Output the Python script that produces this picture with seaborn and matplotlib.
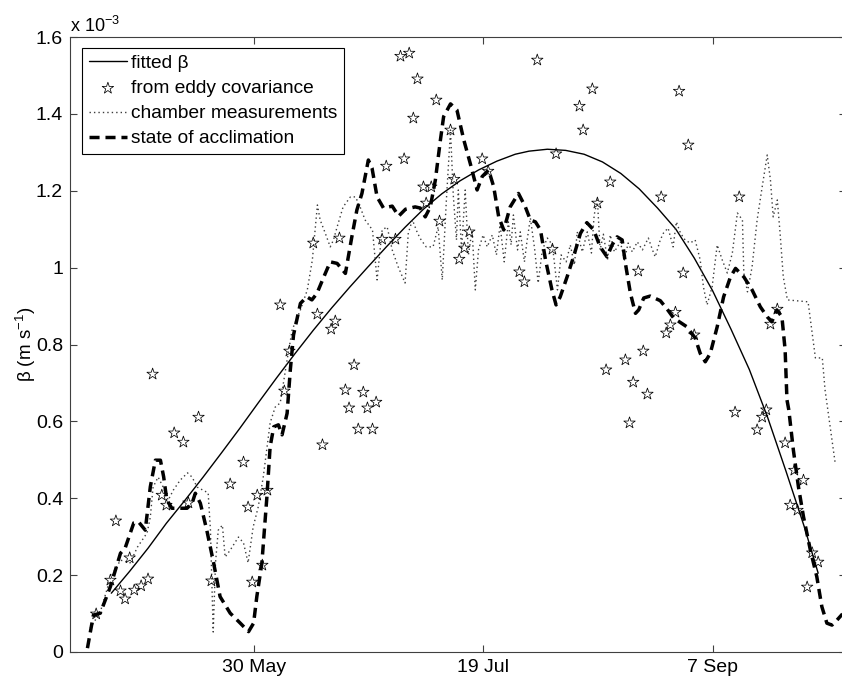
import numpy as np
import pandas as pd
import matplotlib
matplotlib.use("Agg")
import matplotlib.pyplot as plt
import seaborn as sns

# ---------------- data (x: day of year, y: beta in 1e-3 m s-1) ----------------
fit_day = [119, 123, 127, 131, 135, 139, 143, 147, 151, 155, 159, 163, 167, 171,
           175, 179, 183, 187, 191, 195, 199, 203, 207, 210, 214, 218, 222, 226,
           230, 234, 238, 242, 246, 250, 254, 258, 262, 266, 270, 273]
fit_val = [0.153, 0.21, 0.27, 0.335, 0.394, 0.455, 0.518, 0.582, 0.648, 0.713,
           0.776, 0.837, 0.895, 0.950, 1.003, 1.055, 1.105, 1.152, 1.192, 1.226,
           1.254, 1.277, 1.295, 1.303, 1.308, 1.305, 1.295, 1.275, 1.245, 1.205,
           1.155, 1.10, 1.025, 0.94, 0.84, 0.735, 0.61, 0.47, 0.325, 0.205]

ec_day = [115.7, 118.8, 120, 121, 122, 123, 124, 125.5, 127, 128, 130, 131, 132.7,
          134.7, 135.8, 138, 140.8, 144.9, 147.8, 148.8, 149.7, 150.8, 151.9, 153,
          155.8, 156.7, 157.8, 163, 163.9, 165, 166.9, 167.8, 168.7, 170, 170.8,
          171.9, 172.8, 173.9, 174.8, 175.9, 176.7, 178, 178.9, 180.9, 182, 182.8,
          183.9, 184.8, 185.7, 187, 187.6, 188.7, 189.8, 190.5, 192.9, 193.7,
          194.8, 195.9, 197, 199.8, 201.1, 207.9, 209, 211.8, 215.1, 215.9, 221,
          221.8, 223.8, 224.9, 226.8, 227.7, 231, 231.9, 232.7, 233.8, 234.9,
          235.8, 238.8, 239.9, 240.8, 241.9, 242.7, 243.6, 244.7, 246, 254.9,
          255.8, 259.7, 260.8, 261.7, 262.6, 264.1, 265.8, 266.9, 267.8, 268.5,
          269.8, 270.6, 271.7, 273]
ec_val = [0.099, 0.187, 0.341, 0.159, 0.138, 0.245, 0.161, 0.172, 0.190, 0.723,
          0.408, 0.382, 0.570, 0.546, 0.388, 0.611, 0.185, 0.437, 0.494, 0.377,
          0.182, 0.408, 0.226, 0.421, 0.903, 0.679, 0.783, 1.064, 0.879, 0.539,
          0.840, 0.861, 1.077, 0.682, 0.635, 0.747, 0.580, 0.676, 0.635, 0.580,
          0.650, 1.074, 1.264, 1.074, 1.550, 1.283, 1.558, 1.389, 1.491, 1.210,
          1.168, 1.210, 1.436, 1.121, 1.358, 1.230, 1.022, 1.051, 1.093, 1.283,
          1.251, 0.989, 0.963, 1.540, 1.048, 1.296, 1.420, 1.358, 1.465, 1.168,
          0.734, 1.223, 0.760, 0.596, 0.702, 0.991, 0.783, 0.671, 1.184, 0.830,
          0.851, 0.884, 1.459, 0.986, 1.319, 0.825, 0.624, 1.184, 0.578, 0.611,
          0.630, 0.853, 0.892, 0.544, 0.382, 0.473, 0.369, 0.447, 0.169, 0.258,
          0.234]

ch_day = [114.4, 116.6, 118.8, 121.0, 123.1, 124.7, 126.8, 127.5, 128.1, 129.2,
          130.3, 131.4, 132.5, 134.0, 135.6, 136.6, 137.7, 139.0, 140.1, 140.6,
          141.2, 141.7, 142.3, 143.2, 143.8, 144.9, 146.7, 147.8, 148.8, 149.9,
          151.0, 152.1, 153.6, 154.7, 155.8, 157.3, 158.4, 160.2, 161.7, 162.8,
          163.9, 164.5, 165.6, 166.7, 167.4, 168.2, 169.5, 171.1, 172.2, 173.2,
          174.3, 175.9, 176.9, 178.0, 179.1, 180.2, 181.5, 183.0, 183.7, 184.6,
          185.7, 186.5, 187.6, 189.1, 190.2, 191.1, 192.0, 192.9, 193.5, 194.2,
          194.6, 195.3, 196.1, 196.8, 197.6, 198.3, 199.0, 200.0, 200.9, 202.0,
          202.9, 203.7, 204.6, 205.5, 206.1, 206.6, 207.5, 208.1, 209.0, 209.6,
          210.3, 211.2, 212.0, 212.9, 214.0, 215.1, 216.2, 217.0, 218.1, 219.0,
          219.9, 220.5, 221.6, 222.7, 223.6, 224.2, 224.9, 225.5, 226.2, 227.1,
          227.7, 228.6, 229.9, 230.8, 231.6, 232.5, 233.6, 234.7, 236.0, 236.9,
          237.5, 238.6, 239.3, 240.3, 241.4, 242.1, 243.0, 244.0, 245.1, 246.2,
          247.3, 248.0, 248.8, 249.9, 251.0, 252.1, 253.2, 254.3, 255.4, 256.5,
          256.8, 257.6, 258.6, 259.7, 260.8, 261.9, 262.6, 263.2, 264.1, 264.7,
          265.4, 266.3, 270.8, 271.7, 272.4, 273.9, 274.5, 276.7]
ch_val = [0.062, 0.104, 0.193, 0.239, 0.232, 0.273, 0.310, 0.351, 0.429, 0.455,
          0.429, 0.395, 0.421, 0.447, 0.466, 0.455, 0.429, 0.421, 0.414, 0.317,
          0.052, 0.232, 0.317, 0.330, 0.247, 0.265, 0.299, 0.284, 0.232, 0.325,
          0.377, 0.455, 0.596, 0.637, 0.648, 0.760, 0.838, 0.890, 0.942, 1.020,
          1.163, 1.124, 1.090, 1.054, 1.072, 1.106, 1.158, 1.184, 1.184, 1.158,
          1.124, 1.098, 0.968, 1.098, 1.106, 1.046, 1.002, 0.960, 1.090, 1.124,
          1.090, 1.072, 1.054, 1.054, 1.106, 0.968, 1.176, 1.358, 1.189, 1.072,
          1.202, 1.046, 1.202, 1.033, 1.098, 0.942, 1.046, 1.085, 1.054, 1.085,
          1.033, 1.111, 1.015, 1.119, 1.059, 1.137, 1.046, 1.093, 1.015, 1.072,
          1.129, 1.051, 0.960, 1.046, 1.077, 1.059, 0.942, 1.033, 1.015, 1.059,
          1.007, 1.093, 1.041, 1.093, 1.038, 1.137, 1.176, 1.046, 1.087, 1.020,
          1.085, 1.041, 1.067, 1.020, 1.064, 1.041, 1.067, 1.046, 1.077, 1.046,
          1.028, 1.072, 1.090, 1.103, 1.054, 1.119, 1.090, 1.072, 1.064, 1.072,
          1.020, 0.950, 0.903, 0.950, 1.059, 1.020, 0.986, 1.038, 1.142, 1.124,
          0.986, 0.937, 1.002, 1.124, 1.210, 1.293, 1.228, 1.132, 1.176, 1.090,
          0.976, 0.916, 0.911, 0.830, 0.765, 0.765, 0.682, 0.492]

acc_day = [113.8, 115.1, 116.6, 118.8, 121.0, 122.0, 123.9, 124.9, 126.4, 127.5,
           128.6, 129.7, 130.4, 131.1, 132.2, 133.3, 135.5, 136.6, 137.3, 138.4,
           139.8, 141.3, 142.7, 144.9, 147.1, 148.9, 150.0, 150.7, 151.8, 152.9,
           153.6, 154.4, 155.4, 156.2, 157.3, 158.0, 158.7, 160.2, 161.6, 162.7,
           163.8, 165.3, 166.7, 168.2, 170.0, 171.4, 172.5, 173.6, 175.0, 175.8,
           176.9, 178.3, 180.2, 181.6, 183.1, 185.2, 186.3, 187.4, 188.5, 189.6,
           190.7, 191.4, 192.9, 194.3, 195.8, 197.2, 198.7, 199.8, 201.2, 202.3,
           203.4, 204.5, 205.9, 207.7, 209.2, 210.3, 211.4, 212.5, 213.6, 215.0,
           215.9, 216.8, 218.3, 219.7, 221.2, 222.6, 224.1, 225.5, 227.0, 228.1,
           229.2, 230.3, 231.0, 232.1, 233.2, 233.9, 235.0, 236.4, 238.6, 240.1,
           241.5, 244.4, 246.2, 247.3, 248.4, 249.5, 251.0, 252.4, 253.9, 255.0,
           256.8, 258.6, 260.4, 261.9, 262.9, 264.0, 265.1, 265.8, 266.2, 266.6,
           267.6, 268.7, 269.8, 271.3, 272.7, 273.8, 274.9, 276.0, 277.1, 278.3]
acc_val = [0.010, 0.096, 0.101, 0.170, 0.257, 0.270, 0.336, 0.339, 0.317, 0.430,
           0.499, 0.499, 0.456, 0.395, 0.374, 0.374, 0.374, 0.387, 0.413, 0.387,
           0.317, 0.231, 0.144, 0.101, 0.075, 0.053, 0.075, 0.144, 0.231, 0.404,
           0.534, 0.586, 0.591, 0.565, 0.621, 0.734, 0.825, 0.907, 0.924, 0.916,
           0.933, 0.976, 1.015, 1.011, 0.985, 1.080, 1.150, 1.193, 1.280, 1.259,
           1.184, 1.155, 1.160, 1.134, 1.152, 1.158, 1.155, 1.132, 1.158, 1.228,
           1.332, 1.393, 1.426, 1.410, 1.332, 1.271, 1.202, 1.237, 1.254, 1.211,
           1.132, 1.098, 1.158, 1.193, 1.158, 1.124, 1.119, 1.098, 1.020, 0.942,
           0.903, 0.924, 0.976, 1.028, 1.089, 1.117, 1.098, 1.054, 1.028, 1.059,
           1.080, 1.072, 1.011, 0.933, 0.881, 0.890, 0.921, 0.926, 0.914, 0.892,
           0.869, 0.846, 0.817, 0.777, 0.755, 0.777, 0.846, 0.924, 0.976, 0.998,
           0.976, 0.942, 0.898, 0.872, 0.859, 0.890, 0.872, 0.786, 0.656, 0.630,
           0.525, 0.430, 0.352, 0.265, 0.196, 0.118, 0.075, 0.070, 0.083, 0.099]

xtick_pos = [150, 200, 250]
xtick_labels = ["30 May", "19 Jul", "7 Sep"]
ytick_pos = [0, 0.2, 0.4, 0.6, 0.8, 1.0, 1.2, 1.4, 1.6]
ytick_labels = ["0", "0.2", "0.4", "0.6", "0.8", "1", "1.2", "1.4", "1.6"]

# ---------------- style ----------------
sns.set_style("ticks")
plt.rcParams["font.family"] = ["Liberation Sans", "DejaVu Sans"]
plt.rcParams["mathtext.fontset"] = "custom"
plt.rcParams["mathtext.rm"] = "Liberation Sans"
plt.rcParams["mathtext.it"] = "Liberation Sans:italic"
plt.rcParams["text.color"] = "black"
plt.rcParams["axes.labelcolor"] = "black"
plt.rcParams["xtick.labelcolor"] = "black"
plt.rcParams["ytick.labelcolor"] = "black"

W, H = 842, 677
fig = plt.figure(figsize=(W / 100, H / 100), dpi=100)
xmin, xmax = 110, 279
ppd = 4.59
left_px, top_px, bottom_px = 70, 37, 652
right_px = left_px + (xmax - xmin) * ppd
ax = fig.add_axes([left_px / W, 1 - bottom_px / H,
                   (right_px - left_px) / W, (bottom_px - top_px) / H])

fit_df = pd.DataFrame({"day": fit_day, "beta": fit_val})
ec_df = pd.DataFrame({"day": ec_day, "beta": ec_val})
ch_df = pd.DataFrame({"day": ch_day, "beta": ch_val})
acc_df = pd.DataFrame({"day": acc_day, "beta": acc_val})

sns.lineplot(data=fit_df, x="day", y="beta", ax=ax, color="black", lw=1.0,
             estimator=None, sort=False, label="fitted β")
sns.scatterplot(data=ec_df, x="day", y="beta", ax=ax, marker="*", s=75,
                facecolors="none", edgecolors="black", linewidth=0.55,
                label="from eddy covariance", zorder=3)
sns.lineplot(data=ch_df, x="day", y="beta", ax=ax, color="#3c3c3c", lw=1.0,
             linestyle=(0, (1, 2.2)), estimator=None, sort=False,
             label="chamber measurements")
sns.lineplot(data=acc_df, x="day", y="beta", ax=ax, color="black", lw=2.5,
             linestyle=(0, (2.9, 1.7)), estimator=None, sort=False,
             label="state of acclimation", zorder=4)

ax.set_xlim(xmin, xmax)
ax.set_ylim(0, 1.6)
ax.set_xticks(xtick_pos)
ax.set_xticklabels(xtick_labels)
ax.set_yticks(ytick_pos)
ax.set_yticklabels(ytick_labels)
ax.set_xlabel("")
ax.set_ylabel("β (m s$^{-1}$)", fontsize=13.5, color="black")
ax.yaxis.set_label_coords(-0.041, 0.5)

spine_col = "#404040"
for sp in ax.spines.values():
    sp.set_visible(True)
    sp.set_color(spine_col)
    sp.set_linewidth(0.8)
ax.tick_params(direction="in", top=True, right=True, length=5, width=0.8,
               color=spine_col, labelsize=14, pad=5, labelcolor="black")

leg = ax.legend(loc="upper left", bbox_to_anchor=(0.0155, 0.982),
                borderaxespad=0, frameon=True, fancybox=False,
                edgecolor="black", framealpha=1, fontsize=13.8,
                handlelength=2.0, handletextpad=0.2, labelspacing=0.4,
                borderpad=0.35, scatterpoints=1)
leg.get_frame().set_linewidth(0.8)

fig.text(70 / W, 1 - 32 / H, r"x 10$^{-3}$", fontsize=13,
         ha="left", va="baseline")

fig.savefig("out.png", dpi=100)
